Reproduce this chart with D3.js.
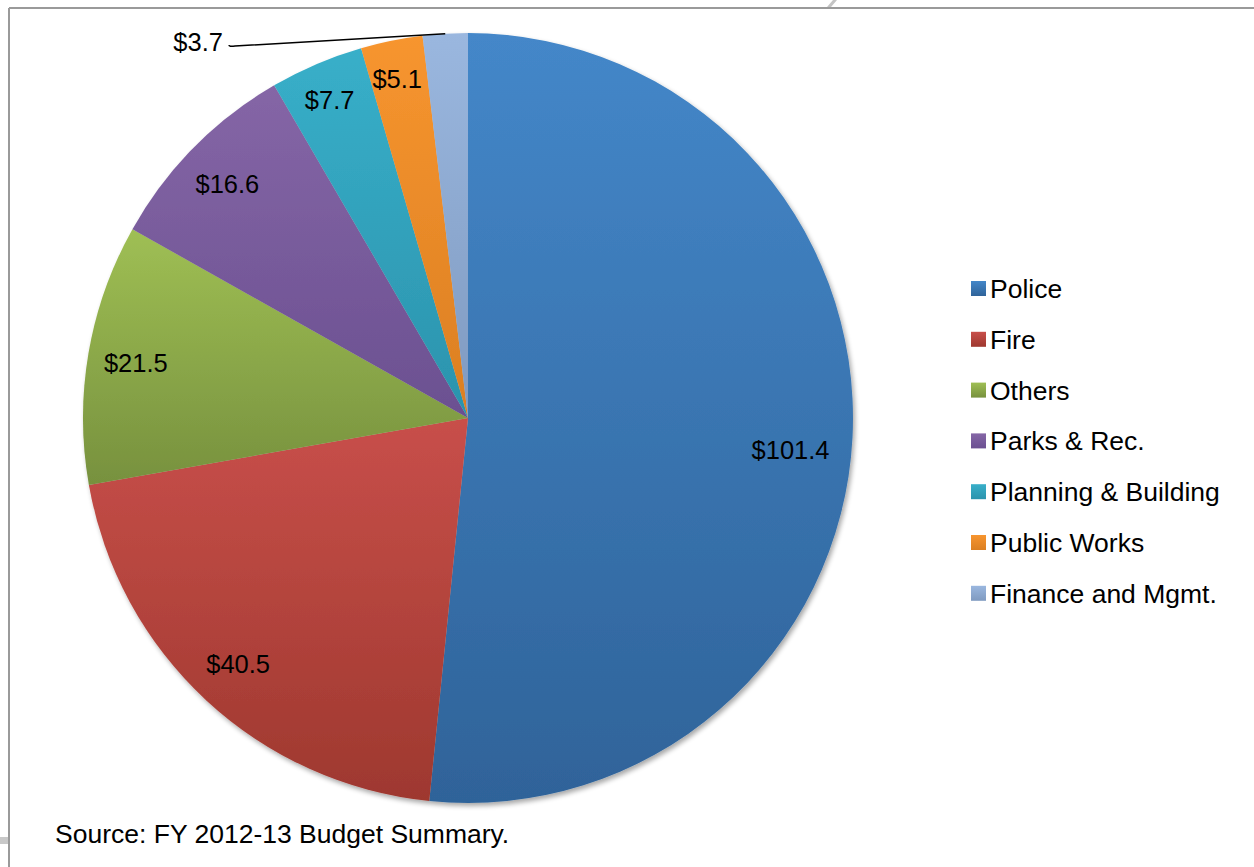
<!DOCTYPE html>
<html>
<head>
<meta charset="utf-8">
<script src="https://cdn.jsdelivr.net/npm/d3@7"></script>
<style>
  html, body { margin: 0; padding: 0; background: #fff; }
  svg { display: block; }
  text { font-family: "Liberation Sans", Arial, sans-serif; fill: #000; }
</style>
</head>
<body>
<svg id="chart" width="1254" height="867"></svg>
<script>
// FY 2012-13 budget by department ($ millions)
const categories = ["Police", "Fire", "Others", "Parks & Rec.", "Planning & Building", "Public Works", "Finance and Mgmt."];
const values = [101.4, 40.5, 21.5, 16.6, 7.7, 5.1, 3.7];
const valueLabels = ["$101.4", "$40.5", "$21.5", "$16.6", "$7.7", "$5.1", "$3.7"];
const sourceNote = "Source: FY 2012-13 Budget Summary.";

// top / bottom stops of each slice's vertical gradient
const colorsTop = ["#4487c9", "#c84f4a", "#9fbf54", "#8566a6", "#38afc9", "#f7952f", "#9ab7df"];
const colorsBottom = ["#2f6399", "#9e382f", "#77913e", "#6b5091", "#2b93ad", "#db7f22", "#7f9ac0"];

const svg = d3.select("#chart");
const W = 1254, H = 867;
const cx = 468, cy = 418, R = 385;

// frame
svg.append("line").attr("x1", 9).attr("x2", W).attr("y1", 8).attr("y2", 8)
  .attr("stroke", "#9a9a9a").attr("stroke-width", 2);
svg.append("line").attr("x1", 9).attr("x2", 9).attr("y1", 8).attr("y2", H)
  .attr("stroke", "#9a9a9a").attr("stroke-width", 2);
svg.append("path").attr("d", "M827,7 L833,0 L837,0 L831,7 Z").attr("fill", "#c4c4c4");
svg.append("rect").attr("x", 0).attr("y", 837).attr("width", 8).attr("height", 7).attr("fill", "#c8c8c8");

const defs = svg.append("defs");
categories.forEach((c, i) => {
  const g = defs.append("linearGradient").attr("id", "grad" + i)
    .attr("x1", 0).attr("y1", 0).attr("x2", 0).attr("y2", 1);
  g.append("stop").attr("offset", "0%").attr("stop-color", colorsTop[i]);
  g.append("stop").attr("offset", "100%").attr("stop-color", colorsBottom[i]);
});
const shadow = defs.append("filter").attr("id", "pieShadow")
  .attr("x", "-10%").attr("y", "-10%").attr("width", "120%").attr("height", "120%");
shadow.append("feGaussianBlur").attr("in", "SourceAlpha").attr("stdDeviation", 2.5).attr("result", "blur");
shadow.append("feOffset").attr("in", "blur").attr("dx", 1.5).attr("dy", 2.5).attr("result", "off");
shadow.append("feComponentTransfer").attr("in", "off").attr("result", "soft")
  .append("feFuncA").attr("type", "linear").attr("slope", 0.35);
const merge = shadow.append("feMerge");
merge.append("feMergeNode").attr("in", "soft");
merge.append("feMergeNode").attr("in", "SourceGraphic");

const pie = d3.pie().sort(null).value(d => d)(values);
const arc = d3.arc().innerRadius(0).outerRadius(R);

const g = svg.append("g").attr("transform", `translate(${cx},${cy})`);
const slices = g.append("g").attr("filter", "url(#pieShadow)");
slices.selectAll("path").data(pie).join("path")
  .attr("d", arc)
  .attr("fill", (d, i) => `url(#grad${i})`);

// inside labels for all but the smallest slice; narrow slices push labels further out
const fontSize = 25.5;
function labelPos(d, i) {
  const span = d.endAngle - d.startAngle;
  const rr = span < 0.3 ? R * 0.9 : R * 0.87;
  const a = (d.startAngle + d.endAngle) / 2;
  const x = Math.sin(a) * rr, y = -Math.cos(a) * rr;
  // the large slice's label sits a little lower and inward
  return i === 0 ? [x - 12, y + 15] : [x - 2, y + 1];
}
g.selectAll("text.val").data(pie.filter((d, i) => i < values.length - 1)).join("text")
  .attr("class", "val")
  .attr("transform", (d, i) => `translate(${labelPos(d, i)})`)
  .attr("text-anchor", "middle")
  .attr("dominant-baseline", "central")
  .attr("font-size", fontSize)
  .text((d, i) => valueLabels[i]);

// smallest slice: label outside with a leader line to the arc
const last = pie[pie.length - 1];
const mid = (last.startAngle + last.endAngle) / 2;
const edge = [Math.sin(mid) * R, -Math.cos(mid) * R];
const labelEnd = [229 - cx, 47 - cy];
g.append("path")
  .attr("d", `M${edge[0]},${edge[1]} L${labelEnd[0] + 6},${labelEnd[1] - 1} Q${labelEnd[0]},${labelEnd[1]} ${labelEnd[0]},${labelEnd[1] - 2}`)
  .attr("fill", "none").attr("stroke", "#000").attr("stroke-width", 1.5);
g.append("text")
  .attr("x", labelEnd[0] - 6).attr("y", labelEnd[1] - 5)
  .attr("text-anchor", "end")
  .attr("dominant-baseline", "central")
  .attr("font-size", fontSize)
  .text(valueLabels[values.length - 1]);

// legend
const legend = svg.append("g").attr("transform", "translate(971,281)");
const rows = legend.selectAll("g").data(categories).join("g")
  .attr("transform", (d, i) => `translate(0,${i * 50.8})`);
rows.append("rect").attr("width", 15).attr("height", 15)
  .attr("fill", (d, i) => `url(#grad${i})`);
rows.append("text").attr("x", 19).attr("y", 8).attr("dominant-baseline", "central")
  .attr("font-size", 26.5).text(d => d);

// source note
svg.append("text").attr("x", 55).attr("y", 834).attr("dominant-baseline", "central")
  .attr("font-size", 26.5).text(sourceNote);
</script>
</body>
</html>
